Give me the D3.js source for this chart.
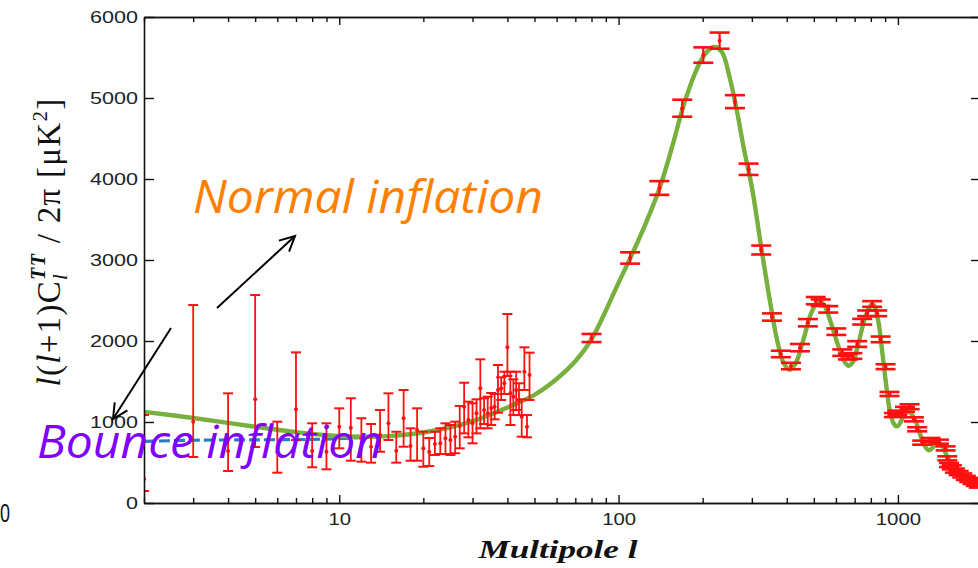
<!DOCTYPE html>
<html>
<head>
<meta charset="utf-8">
<script src="https://cdn.jsdelivr.net/npm/d3@7"></script>
<style>
  html, body { margin: 0; padding: 0; background: #fff; }
  svg { display: block; }
</style>
</head>
<body>
<svg id="chart" width="978" height="568"></svg>
<script>
// ---------------- DATA ----------------
// Theory curve (green): multipole l and D_l [uK^2]
const curveL = [2,3,4,5,6,7,8,10,12,15,20,25,30,40,50,60,70,80,100,110,125,140,155,170,185,200,215,222,235,250,265,280,300,325,350,370,390,410,430,460,490,520,545,575,610,640,665,690,720,760,800,820,850,880,910,940,975,1000,1030,1060,1100,1150,1200,1250,1290,1330,1380,1430,1500,1600,1700,1800,1900,2000];
const curveV = [1125,1050,990,942,905,875,853,827,818,825,870,935,1010,1180,1335,1530,1750,2020,2720,3020,3450,3880,4380,4880,5250,5500,5620,5630,5560,5250,4850,4400,3900,3130,2450,2000,1730,1645,1720,2030,2350,2490,2440,2230,1950,1760,1695,1740,1950,2270,2440,2440,2250,1850,1430,1100,960,950,1020,1110,1120,1030,850,700,650,680,740,720,580,430,340,280,230,190];

// Bounce inflation curve (blue dashed): differs at low l only
const bounceL = [2,3,5,8,10,12,15,20,25,30,40,50,60,70,80,100,110,125,140,155,170,185,200,215,222,235,250,265,280,300,325,350,370,390,410,430,460,490,520,545,575,610,640,665,690,720,760,800,820,850,880,910,940,975,1000,1030,1060,1100,1150,1200,1250,1290,1330,1380,1430,1500,1600,1700,1800,1900,2000];
const bounceV = [760,775,780,785,795,808,825,870,935,1010,1180,1335,1530,1750,2020,2720,3020,3450,3880,4380,4880,5250,5500,5620,5630,5560,5250,4850,4400,3900,3130,2450,2000,1730,1645,1720,2030,2350,2490,2440,2230,1950,1760,1695,1740,1950,2270,2440,2440,2250,1850,1430,1100,960,950,1020,1110,1120,1030,850,700,650,680,740,720,580,430,340,280,230,190];

// Low-l measurements (unbinned): value, lower and upper error-bar ends
const lowL  = [2,3,4,5,6,7,8,9,10,11,12,13,14,15,16,17,18,19,20,21,22,23,24,25,26,27,28,29,30,31,32,33,34,35,36,37,38,39,40,41,42,43,44,45,46,47,48];
const lowV  = [296,1004,642,1280,633,1157,642,633,942,930,799,695,840,984,646,1046,704,901,675,630,728,737,799,778,819,951,1189,1025,984,1107,1416,1148,1107,1173,1189,1395,1416,1478,1922,1354,1312,1395,1272,1065,1621,942,1580];
const lowLo = [148,568,395,691,374,778,441,416,675,522,510,498,633,778,498,695,522,522,448,457,593,605,605,593,614,675,860,811,737,860,922,975,922,963,1033,1115,1272,1346,1568,963,1086,1148,1086,819,1395,811,1272];
const lowHi = [1086,2444,1354,2568,1004,1860,984,984,1169,1293,1046,975,1148,1354,880,1395,922,1169,880,802,880,922,984,963,1004,1198,1485,1251,1231,1280,1774,1293,1312,1358,1346,1704,1552,1621,2333,1621,1527,1621,1478,1280,1922,1086,1856];

// High-l binned measurements: value and symmetric error
const highL = [80,110,140,169,201,230,261,292,324,354,381,414,446,476,508,529,563,602,632,662,687,715,745,776,809,843,867,903,933,967,995,1060,1101,1141,1172,1222,1309,1402,1482,1503,1524,1560,1600,1650,1700,1750,1800,1850,1900,1950];
const highV = [2037,3025,3889,4874,5530,5708,4955,4120,3123,2296,1840,1691,1918,2226,2498,2473,2391,2115,1856,1807,1815,1963,2238,2342,2457,2342,2020,1683,1346,1086,1115,1157,1189,1033,910,745,778,757,674,551,469,440,400,370,340,310,285,260,235,215];
const highE = [50,70,85,105,95,100,80,70,55,45,40,40,45,45,45,40,40,40,40,35,35,35,35,35,35,35,35,30,25,25,25,30,30,25,25,25,25,25,25,25,25,25,25,25,25,25,25,25,25,25];

// Axis ticks
const xMajorTicks = [10, 100, 1000];
const xMinorTicks = [2,3,4,5,6,7,8,9,20,30,40,50,60,70,80,90,200,300,400,500,600,700,800,900,2000];
const yTicks = [0,1000,2000,3000,4000,5000,6000];

// Text
const normalText = "Normal inflation";
const bounceText = "Bounce inflation";
const xTitle = "Multipole l";

// ---------------- DRAW ----------------
const svg = d3.select("#chart");
const pL = 144, pR = 982, pT = 17, pB = 503;

const x = d3.scaleLog().domain([2, 2000]).range([pL, pR]);
const y = d3.scaleLinear().domain([0, 6000]).range([pB, pT]);

const defs = svg.append("defs");
defs.append("clipPath").attr("id", "plotclip")
  .append("rect").attr("x", pL).attr("y", pT - 5).attr("width", pR - pL).attr("height", pB - pT + 5);
defs.append("marker").attr("id", "arrowhead")
  .attr("markerUnits", "userSpaceOnUse")
  .attr("viewBox", "-2 -9 20 18")
  .attr("markerWidth", 20).attr("markerHeight", 18)
  .attr("refX", 15).attr("refY", 0).attr("orient", "auto")
  .append("path").attr("d", "M0,-7.5L15,0L0,7.5")
  .attr("fill", "none").attr("stroke", "#000").attr("stroke-width", 2);

const plot = svg.append("g").attr("clip-path", "url(#plotclip)");

// Curves
const line = d3.line().x(d => x(d[0])).y(d => y(d[1])).curve(d3.curveCatmullRom.alpha(0.5));
plot.append("path")
  .datum(bounceL.map((l, i) => [l, bounceV[i]]))
  .attr("d", line).attr("fill", "none")
  .attr("stroke", "#2b7bc0").attr("stroke-width", 3.2)
  .attr("stroke-dasharray", "11,4");
plot.append("path")
  .datum(curveL.map((l, i) => [l, curveV[i]]))
  .attr("d", line).attr("fill", "none")
  .attr("stroke", "#78b03e").attr("stroke-width", 4.4)
  .attr("stroke-linejoin", "round");

// Error bars
const red = "#ff1010";
function errorBar(g, l, v, lo, hi, half, sw, capw) {
  const cx = x(l);
  g.append("line").attr("x1", cx).attr("x2", cx).attr("y1", y(lo)).attr("y2", y(hi))
    .attr("stroke", red).attr("stroke-width", sw);
  [lo, hi].forEach(e => g.append("line")
    .attr("x1", cx - half).attr("x2", cx + half).attr("y1", y(e)).attr("y2", y(e))
    .attr("stroke", red).attr("stroke-width", capw));
  g.append("circle").attr("cx", cx).attr("cy", y(v)).attr("r", 2).attr("fill", red);
}
const eb = plot.append("g");
lowL.forEach((l, i) => errorBar(eb, l, lowV[i], lowLo[i], lowHi[i], 5, 1.8, 2));
highL.forEach((l, i) => errorBar(eb, l, highV[i], highV[i] - highE[i], highV[i] + highE[i], 10, 2.2, 2.6));

// Axes
const axisColor = "#111";
function styleAxis(g) {
  g.selectAll("path").attr("stroke", axisColor).attr("stroke-width", 1.6);
  g.selectAll("line").attr("stroke", axisColor).attr("stroke-width", 1.4);
  g.selectAll("text").attr("fill", "#222").attr("font-family", "Liberation Sans, Arial, sans-serif").attr("font-size", 17);
}
// bottom
const gxMinor = svg.append("g").attr("transform", `translate(0,${pB})`)
  .call(d3.axisBottom(x).tickValues(xMinorTicks).tickSizeInner(-5).tickSizeOuter(0).tickFormat(""));
styleAxis(gxMinor);
const gx = svg.append("g").attr("transform", `translate(0,${pB})`)
  .call(d3.axisBottom(x).tickValues(xMajorTicks).tickSizeInner(-8).tickSizeOuter(0).tickPadding(10).tickFormat(d3.format("d")));
styleAxis(gx);
gx.selectAll("text").each(function(d) {
  const s = String(d);
  d3.select(this).attr("textLength", 11.3 * s.length).attr("lengthAdjust", "spacingAndGlyphs");
});
// top
const gtMinor = svg.append("g").attr("transform", `translate(0,${pT})`)
  .call(d3.axisTop(x).tickValues(xMinorTicks).tickSizeInner(-5).tickSizeOuter(0).tickFormat(""));
styleAxis(gtMinor);
const gt = svg.append("g").attr("transform", `translate(0,${pT})`)
  .call(d3.axisTop(x).tickValues(xMajorTicks).tickSizeInner(-8).tickSizeOuter(0).tickFormat(""));
styleAxis(gt);
// left
const gy = svg.append("g").attr("transform", `translate(${pL},0)`)
  .call(d3.axisLeft(y).tickValues(yTicks).tickSizeInner(-10).tickSizeOuter(0).tickPadding(6).tickFormat(d3.format("d")));
styleAxis(gy);
gy.selectAll("text").each(function(d) {
  const s = String(d);
  d3.select(this).attr("textLength", 12 * s.length).attr("lengthAdjust", "spacingAndGlyphs");
});
// right
const gr = svg.append("g").attr("transform", `translate(${pR},0)`)
  .call(d3.axisRight(y).tickValues(yTicks).tickSizeInner(-11).tickSizeOuter(0).tickFormat(""));
styleAxis(gr);

// Y axis title (rotated)
const yt = svg.append("text")
  .attr("transform", "translate(60,242) rotate(-90)")
  .attr("text-anchor", "middle")
  .attr("font-family", "Liberation Serif, Times New Roman, serif")
  .attr("font-size", 33).attr("letter-spacing", 1.3).attr("fill", "#111");
yt.append("tspan").attr("font-style", "italic").text("l");
yt.append("tspan").text("(");
yt.append("tspan").attr("font-style", "italic").text("l");
yt.append("tspan").text("+1)C");
yt.append("tspan").attr("font-style", "italic").attr("font-size", 21).attr("dy", 7).text("l");
yt.append("tspan").attr("font-style", "italic").attr("font-weight", "bold").attr("font-size", 20).attr("dx", -7).attr("dy", -22).text("TT");
yt.append("tspan").attr("dy", 15).text(" / 2π [μK");
yt.append("tspan").attr("font-size", 21).attr("dy", -13).text("2");
yt.append("tspan").attr("dy", 13).text("]");

// X axis title
svg.append("text").attr("x", 558).attr("y", 558).attr("text-anchor", "middle")
  .attr("font-family", "Liberation Serif, Times New Roman, serif")
  .attr("font-style", "italic").attr("font-weight", "bold")
  .attr("font-size", 26).attr("fill", "#111")
  .attr("textLength", 159).attr("lengthAdjust", "spacingAndGlyphs")
  .text(xTitle);

// stray "0" at left edge
svg.append("text").attr("x", 0).attr("y", 522)
  .attr("font-family", "Liberation Sans, Arial, sans-serif").attr("font-size", 26).attr("fill", "#111")
  .attr("textLength", 10).attr("lengthAdjust", "spacingAndGlyphs")
  .text("0");

// Arrows
svg.append("line").attr("x1", 217).attr("y1", 308).attr("x2", 295).attr("y2", 236)
  .attr("stroke", "#000").attr("stroke-width", 2).attr("marker-end", "url(#arrowhead)");
svg.append("line").attr("x1", 171).attr("y1", 328).attr("x2", 113).attr("y2", 419)
  .attr("stroke", "#000").attr("stroke-width", 2).attr("marker-end", "url(#arrowhead)");

// Annotations
svg.append("text").attr("x", 193).attr("y", 213)
  .attr("font-family", "Open Sans, Noto Sans, sans-serif").attr("font-style", "italic")
  .attr("font-size", 45).attr("fill", "#ff8000")
  .attr("textLength", 350).attr("lengthAdjust", "spacingAndGlyphs")
  .text(normalText);
svg.append("text").attr("x", 37).attr("y", 458)
  .attr("font-family", "Open Sans, Noto Sans, sans-serif").attr("font-style", "italic")
  .attr("font-size", 45).attr("fill", "#8000ff")
  .attr("textLength", 346).attr("lengthAdjust", "spacingAndGlyphs")
  .text(bounceText);
</script>
</body>
</html>
